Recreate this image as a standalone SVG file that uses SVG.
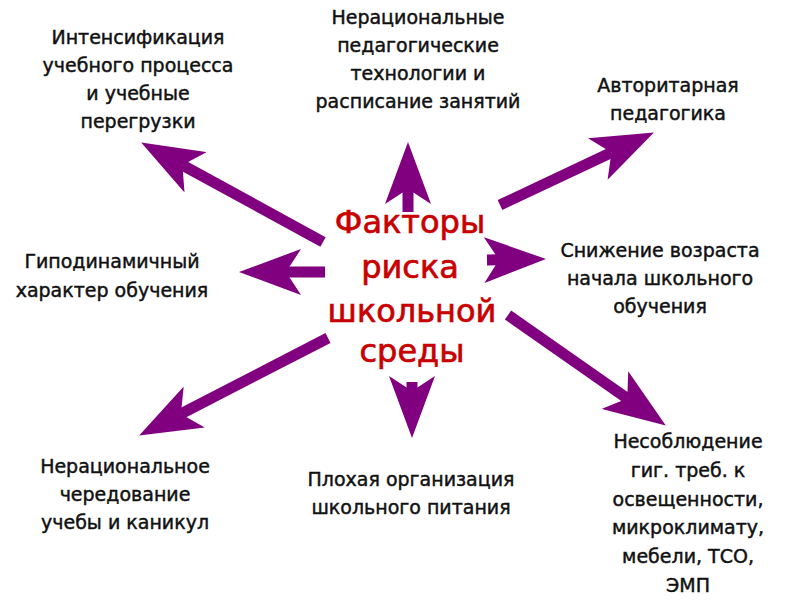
<svg xmlns="http://www.w3.org/2000/svg" width="800" height="600" viewBox="0 0 800 600">
  <style>
    .lbl { font-family: "DejaVu Sans", "Liberation Sans", sans-serif; font-size: 19px; fill: #111; stroke: #111; stroke-width: 0.45px; text-anchor: middle; }
    .ctr { font-family: "DejaVu Sans", "Liberation Sans", sans-serif; font-size: 32px; fill: #C80000; stroke: #C80000; stroke-width: 0.7px; text-anchor: middle; }
    .shaft { stroke: #800080; stroke-width: 11; fill: none; stroke-linecap: butt; }
  </style>
  <defs>
    <marker id="head" viewBox="0 0 62 46" refX="15" refY="23" markerWidth="62" markerHeight="46" markerUnits="userSpaceOnUse" orient="auto">
      <path d="M0,0 L62,23 L0,46 L15,23 Z" fill="#800080"/>
    </marker>
  </defs>
  <rect width="800" height="600" fill="#fff"/>

  <g id="connectors">
    <line class="shaft" x1="323" y1="242" x2="182.4" y2="165.1" marker-end="url(#head)"/>
    <line class="shaft" x1="408" y1="212" x2="408" y2="189" marker-end="url(#head)"/>
    <line class="shaft" x1="500" y1="205" x2="611.4" y2="152.6" marker-end="url(#head)"/>
    <line class="shaft" x1="487" y1="260" x2="499" y2="259.8" marker-end="url(#head)"/>
    <line class="shaft" x1="325" y1="272" x2="286" y2="272" marker-end="url(#head)"/>
    <line class="shaft" x1="328" y1="338" x2="180.9" y2="413.9" marker-end="url(#head)"/>
    <line class="shaft" x1="412" y1="382" x2="412" y2="391" marker-end="url(#head)"/>
    <line class="shaft" x1="508" y1="315" x2="627.3" y2="398.6" marker-end="url(#head)"/>
  </g>

  <g id="center">
    <text class="ctr" x="410" y="233">Факторы</text>
    <text class="ctr" x="410" y="278">риска</text>
    <text class="ctr" x="412" y="322">школьной</text>
    <text class="ctr" x="412" y="362">среды</text>
  </g>

  <g id="n-intensification">
    <text class="lbl" x="138" y="44">Интенсификация</text>
    <text class="lbl" x="138" y="72">учебного процесса</text>
    <text class="lbl" x="138" y="100">и учебные</text>
    <text class="lbl" x="138" y="128">перегрузки</text>
  </g>

  <g id="n-technologies">
    <text class="lbl" x="418" y="24">Нерациональные</text>
    <text class="lbl" x="418" y="52">педагогические</text>
    <text class="lbl" x="418" y="80">технологии и</text>
    <text class="lbl" x="418" y="108">расписание занятий</text>
  </g>

  <g id="n-authoritarian">
    <text class="lbl" x="668" y="92">Авторитарная</text>
    <text class="lbl" x="668" y="120">педагогика</text>
  </g>

  <g id="n-hypodynamic">
    <text class="lbl" x="112" y="268">Гиподинамичный</text>
    <text class="lbl" x="112" y="297">характер обучения</text>
  </g>

  <g id="n-age">
    <text class="lbl" x="660" y="257">Снижение возраста</text>
    <text class="lbl" x="660" y="285">начала школьного</text>
    <text class="lbl" x="660" y="313">обучения</text>
  </g>

  <g id="n-holidays">
    <text class="lbl" x="125" y="473">Нерациональное</text>
    <text class="lbl" x="125" y="501">чередование</text>
    <text class="lbl" x="125" y="529">учебы и каникул</text>
  </g>

  <g id="n-nutrition">
    <text class="lbl" x="411" y="486">Плохая организация</text>
    <text class="lbl" x="411" y="514">школьного питания</text>
  </g>

  <g id="n-hygiene">
    <text class="lbl" x="688" y="448">Несоблюдение</text>
    <text class="lbl" x="688" y="477">гиг. треб. к</text>
    <text class="lbl" x="688" y="506">освещенности,</text>
    <text class="lbl" x="688" y="534">микроклимату,</text>
    <text class="lbl" x="688" y="563">мебели, ТСО,</text>
    <text class="lbl" x="688" y="592">ЭМП</text>
  </g>
</svg>
